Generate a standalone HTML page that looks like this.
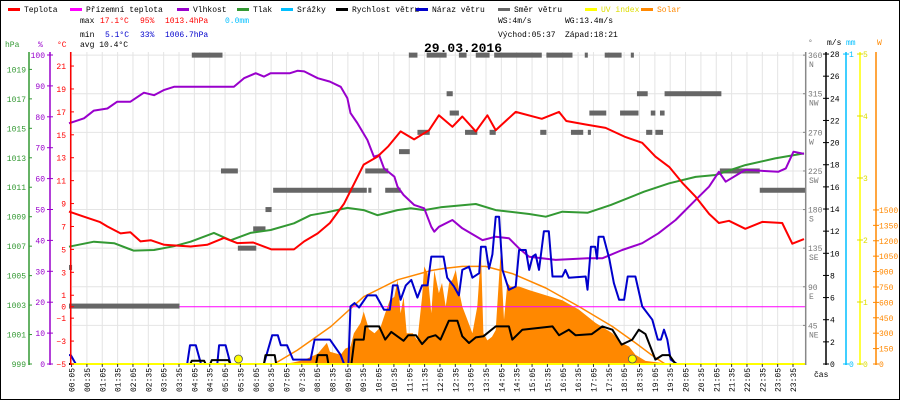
<!DOCTYPE html>
<html><head><meta charset="utf-8"><style>
html,body{margin:0;padding:0;background:#fff}
svg{display:block}
text{font-family:"Liberation Mono",monospace;font-size:8px}
</style></head><body>
<svg id="c" width="900" height="400" viewBox="0 0 900 400">
<rect x="0.5" y="0.5" width="899" height="399" fill="#fff" stroke="#000"/>
<g id="grid"></g>
<g id="series"></g>
<g id="axes"></g>
<g id="legend"></g>
<g>
<text x="80" y="23">max</text><text x="100" y="23" fill="#f00">17.1°C</text><text x="140" y="23" fill="#f00">95%</text><text x="165" y="23" fill="#f00">1013.4hPa</text><text x="225" y="23" fill="#00bfff">0.0mm</text>
<text x="80" y="37">min</text><text x="105" y="37" fill="#00c">5.1°C</text><text x="140" y="37" fill="#00c">33%</text><text x="165" y="37" fill="#00c">1006.7hPa</text>
<text x="80" y="47">avg 10.4°C</text>
<text x="498" y="23">WS:4m/s</text><text x="565" y="23">WG:13.4m/s</text>
<text x="498" y="37">Východ:05:37</text><text x="565" y="37">Západ:18:21</text>
<text x="463" y="52" text-anchor="middle" style="font-size:13px;font-weight:bold">29.03.2016</text>
</g>
</svg>
<script>
// ---- data ----
const tempH=[0,0.49,1.0,1.25,1.68,2.0,2.33,2.66,3.1,3.96,4.5,5.05,5.48,6.0,6.6,7.33,7.66,8.1,8.5,8.96,9.3,9.6,10.05,10.4,10.8,11.24,11.73,12.05,12.49,12.81,13.25,13.63,13.9,14.55,15.4,15.96,16.2,16.83,17.48,18.13,18.67,19.1,19.55,19.98,20.41,20.85,21.17,21.5,22.03,22.58,23.23,23.56,23.94];
const tempV=[8.3,7.85,7.4,7.0,6.4,6.5,5.7,5.8,5.4,5.25,5.4,6.0,5.55,5.6,5.0,5.0,5.7,6.4,7.3,9.0,10.8,12.4,13.1,14.0,15.3,14.6,15.4,16.7,15.7,16.6,15.3,16.7,15.4,17.0,16.4,17.0,16.2,15.9,15.6,14.8,14.3,13.1,12.2,10.8,9.6,8.1,7.3,7.5,6.8,7.4,7.3,5.5,5.9];
const humH=[0,0.49,0.81,1.25,1.57,2.0,2.44,2.77,3.1,3.42,5.37,5.7,6.08,6.35,6.57,7.2,7.44,7.66,8.1,8.5,8.85,9.07,9.17,9.39,9.72,9.93,10.1,10.26,10.6,10.7,10.9,11.24,11.57,11.8,11.9,12.05,12.49,12.81,13.47,13.9,14.33,14.66,14.99,15.85,16.9,17.37,18.02,18.67,19.2,19.76,20.41,20.85,21.17,21.39,22.03,23.1,23.35,23.6,23.94];
const humV=[77.9,79.5,82,82.7,84.9,84.9,87.8,87,88.7,89.7,89.7,92.5,94.1,93,94.1,94.1,94.9,94.7,92.5,91.4,89.7,86,81.2,78,72.5,67.1,67.6,63.3,60.6,57.4,54.7,51.5,50.4,44.4,42.8,44.4,46.6,43.9,40.1,41.2,40.7,37.4,34.7,33.7,34.2,34.2,36.9,39.1,42.3,46.6,53.1,57.4,62.2,59,62.8,62.2,63.3,68.7,68];
const presH=[0,0.81,1.47,2.1,2.77,3.42,3.96,4.72,5.26,5.91,6.57,7.33,7.87,8.4,9.07,9.6,10.05,10.7,11.13,11.57,12.1,13.25,13.9,14.99,15.53,16.07,16.9,17.65,18.73,19.55,20.41,21.06,22.03,23.0,23.94];
const presV=[1006.96,1007.3,1007.2,1006.7,1006.74,1007.0,1007.3,1007.9,1007.4,1007.9,1008.1,1008.55,1009.1,1009.3,1009.6,1009.45,1009.1,1009.45,1009.57,1009.45,1009.64,1009.86,1009.45,1009.18,1009.0,1009.34,1009.27,1009.8,1010.7,1011.27,1011.7,1011.83,1012.5,1012.96,1013.3];
const gustH=[0,0.06,0.22,3.85,3.94,4.13,4.3,4.83,4.89,5.1,5.26,6.35,6.62,6.8,6.9,7.1,7.3,7.87,8.0,8.5,8.85,8.96,9.1,9.17,9.3,9.45,9.72,10.0,10.26,10.45,10.55,10.7,10.8,10.97,11.15,11.35,11.5,11.68,11.8,12.2,12.32,12.54,12.7,12.81,13.03,13.14,13.36,13.42,13.57,13.68,13.79,13.9,14.01,14.12,14.33,14.55,14.66,14.88,14.99,15.1,15.2,15.31,15.47,15.63,15.75,16.07,16.17,16.28,16.83,16.89,17.0,17.14,17.2,17.25,17.41,17.6,17.75,17.92,18.08,18.2,18.45,18.67,19.0,19.18,19.28,19.38,19.49,19.6,19.8,24];
const gustV=[0.8,0.8,0,0,1.7,1.7,0,0,1.7,1.7,0,0,2.6,2.6,1.7,1.7,0.4,0.4,2.2,2.2,0.8,0,0,5.2,5.5,5.1,6.2,6.2,4.9,4.9,7.1,7.1,5.8,7.1,7.6,6.0,7.1,7.1,9.7,9.7,7.8,7.0,6.2,8.5,8.8,7.8,8.2,10.6,10.6,8.6,9.9,13.3,13.3,8.5,6.7,7.0,10.3,10.3,8.5,9.7,9.9,8.5,12.0,12.0,7.9,7.9,8.5,7.8,7.9,6.7,10.6,10.6,9.5,11.5,11.5,9.5,7.3,5.8,5.8,7.9,7.9,5.2,4.0,2.2,2.2,3.1,2.2,0.4,0,0];
const windH=[0,3.95,4.0,4.4,4.45,4.6,4.65,5.2,5.25,6.35,6.4,6.7,6.75,8.05,8.1,8.4,8.45,9.2,9.3,9.6,9.65,10.1,10.3,10.5,10.9,11.05,11.3,11.5,11.7,11.94,12.1,12.37,12.65,12.81,13.03,13.25,13.5,13.9,14.33,14.44,14.77,15.75,15.96,16.28,16.5,17.03,17.37,17.7,18.0,18.35,18.56,18.78,19.1,19.33,19.55,19.76,24];
const windV=[0,0,0.3,0.3,0,0,0.35,0.35,0,0,0.8,0.8,0,0,0.8,0.8,0,0,2.2,2.2,3.4,3.4,2.2,2.9,2.1,2.6,2.6,1.8,2.4,2.6,2.2,3.9,3.9,2.5,1.9,2.4,2.5,3.4,3.4,2.2,3.1,3.4,2.6,3.1,2.6,2.7,3.4,3.1,1.75,2.2,3.1,2.7,0.4,0.8,0.8,0,0];
const solarH=[7.0,7.3,7.66,8.1,8.4,8.5,8.85,9.0,9.17,9.28,9.5,9.6,9.77,9.95,10.15,10.3,10.45,10.6,10.7,10.8,10.9,11.0,11.2,11.35,11.5,11.57,11.68,11.8,11.9,12.05,12.15,12.27,12.38,12.49,12.6,12.7,12.81,12.95,13.14,13.3,13.42,13.5,13.63,13.78,13.9,14.06,14.17,14.28,14.38,14.66,14.99,15.53,16.07,16.61,17.15,17.7,18.0,18.24,18.45,18.78,19.33,19.5];
const solarV=[0,15,40,100,205,120,90,150,170,300,400,510,340,300,360,495,620,655,820,495,655,300,300,230,655,950,880,495,910,690,790,560,790,820,915,720,560,450,300,560,1080,300,230,265,330,1080,430,790,755,755,720,670,620,530,400,300,205,170,90,30,10,0];
const theoH=[6.68,7.44,8.53,9.6,10.7,11.8,12.2,12.81,13.57,14.44,15.53,16.61,17.7,18.45,19.1,19.42];
const theoV=[0,135,365,655,820,910,930,950,950,880,740,560,365,205,60,0];
// wind direction segments: start hour, end hour, degrees
const dirStart=[0,0,4.0,4.95,5.5,6.0,6.4,6.65,9.75,10.3,9.65,10.75,11.07,11.35,11.65,12.3,12.4,12.7,12.9,13.25,13.7,13.85,15.35,15.55,16.35,16.8,16.9,16.95,17.45,17.95,18.3,18.5,18.8,18.95,19.1,19.25,19.4,21.2,22.5];
const dirEnd=[3.6,0.1,5.0,5.5,6.1,6.4,6.6,9.7,9.85,10.8,10.4,11.1,11.35,11.75,12.3,12.5,12.7,12.95,13.3,13.7,13.9,15.4,15.55,16.4,16.75,16.9,17.0,17.5,18.0,18.55,18.4,18.85,19.0,19.1,19.35,19.4,21.25,22.5,24];
const dirDeg=[67.5,112.5,360,225,135,157.5,180,202.5,202.5,202.5,225,247.5,360,270,360,315,292.5,360,270,360,270,360,270,360,270,360,270,292.5,360,292.5,360,315,270,292.5,270,292.5,315,225,202.5];
const sunH=[5.52,18.35];
const presTicks=[999,1001,1003,1005,1007,1009,1011,1013,1015,1017,1019];
const humTicks=[0,10,20,30,40,50,60,70,80,90,100];
const tempTicks=[-5,-3,-1,0,1,3,5,7,9,11,13,15,17,19,21];
const windTicks=[0,2,4,6,8,10,12,14,16,18,20,22,24,26,28];
const uvTicks=[0,1,2,3,4,5];
const solarTicks=[0,150,300,450,600,750,900,1050,1200,1350,1500];
const dirTicks=[45,90,135,180,225,270,315,360];
const dirNames=["NE","E","SE","S","SW","W","NW","N"];
const legendNames=["Teplota","Přízemní teplota","Vlhkost","Tlak","Srážky","Rychlost větru","Náraz větru","Směr větru","UV index","Solar"];

// ---- scales ----
const B=364;
const xh=h=>69+Math.max(0,Math.min(24,h))*30.7;
const yT=v=>B-(v+5)*11.46;
const yH=v=>B-v*3.09;
const yP=v=>B-(v-999)*14.73;
const yW=v=>B-v*11.07;
const yS=v=>B-v*0.1027;
const yD=v=>B-v*0.858;
const yU=v=>B-v*62;
const NS='http://www.w3.org/2000/svg';
function mk(tag,attrs,parent){const e=document.createElementNS(NS,tag);for(const k in attrs)e.setAttribute(k,attrs[k]);parent.appendChild(e);return e;}
const G=document.getElementById('grid'),S=document.getElementById('series'),A=document.getElementById('axes'),L=document.getElementById('legend');

// grid
for(let i=0;i<48;i++){const h=i*0.5+5/60;const x=xh(h);
 const l=mk('line',{x1:x,y1:52,x2:x,y2:B,stroke:'#e4e4e4','stroke-width':1},G);
 
 const tk=mk('line',{x1:x,y1:B,x2:x,y2:B+3,stroke:'#333'},A);
 
 const hh=Math.floor(h),mm=Math.round((h-hh)*60);
 const lab=(hh<10?'0':'')+hh+':'+(mm<10?'0':'')+mm;
 const t=mk('text',{x:0,y:0,transform:`translate(${x+3},${392}) rotate(-90)`},A);t.textContent=lab;
 }
dirTicks.forEach(d=>{const y=yD(d);const l=mk('line',{x1:71,y1:y,x2:805,y2:y,stroke:'#e4e4e4'},G);
 });

function poly(hs,vs,fy,color,w,name){const pts=hs.map((h,i)=>xh(h).toFixed(1)+','+fy(vs[i]).toFixed(1)).join(' ');
 const p=mk('polyline',{points:pts,fill:'none',stroke:color,'stroke-width':w,'stroke-linejoin':'round'},S);
 return p;}

// solar area
{const pts=[xh(solarH[0])+','+B].concat(solarH.map((h,i)=>xh(h).toFixed(1)+','+yS(solarV[i]).toFixed(1))).concat([xh(solarH[solarH.length-1])+','+B]).join(' ');
 const p=mk('polygon',{points:pts,fill:'#ff8800'},S);
 }
poly(theoH,theoV,yS,'#ff8800',1.5,'solar-theoretical-line');
{const l=mk('line',{x1:71,y1:yT(0),x2:805,y2:yT(0),stroke:'#ff00ff','stroke-width':1},S);
 }
dirDeg.forEach((d,i)=>{const x1=xh(dirStart[i]),x2=xh(dirEnd[i]);
 const r=mk('rect',{x:x1,y:yD(d)-2.5,width:Math.max(3,x2-x1),height:5,fill:'#666'},S);
 });
poly(presH,presV,yP,'#339933',2,'pressure-line');
poly(humH,humV,yH,'#9900cc',2,'humidity-line');
poly(tempH,tempV,yT,'#ff0000',2,'temperature-line');
poly(gustH,gustV,yW,'#0000cc',2,'wind-gust-line');
poly(windH,windV,yW,'#000000',2,'wind-speed-line');
{const l=mk('line',{x1:71,y1:B,x2:806,y2:B,stroke:'#ffff00','stroke-width':2},S);
 }
sunH.forEach(h=>{const c=mk('circle',{cx:xh(h),cy:B-5,r:4,fill:'#ffff00',stroke:'#555','stroke-width':0.8},S);
 });

// axes
function axis(x,color,name){const l=mk('line',{x1:x,y1:52,x2:x,y2:B+1,stroke:color,'stroke-width':1.5},A);
 }
function lab(x,y,txt,color,anchor,name){const t=mk('text',{x:x,y:y,fill:color,'text-anchor':anchor||'start'},A);t.textContent=txt;
 return t;}
axis(29,'#339933','pressure-axis');axis(50,'#9900cc','humidity-axis');axis(70.7,'#ff0000','temperature-axis');
axis(805.7,'#888','direction-axis');axis(826,'#000','wind-axis');axis(846,'#00bfff','precipitation-axis');axis(860,'#ffff00','uv-axis');axis(876,'#ff8800','solar-axis');
presTicks.forEach(v=>{const y=yP(v);mk('line',{x1:29,y1:y,x2:32,y2:y,stroke:'#339933'},A);lab(26,y+3,v,'#339933','end','pressure-tick-label');});
humTicks.forEach(v=>{const y=yH(v);mk('line',{x1:47,y1:y,x2:53,y2:y,stroke:'#9900cc'},A);lab(45,y+3,v,'#9900cc','end','humidity-tick-label');});
tempTicks.forEach(v=>{const y=yT(v);mk('line',{x1:70,y1:y,x2:74,y2:y,stroke:'#ff0000'},A);lab(66,y+3,v<0?'−'+(-v):v,'#ff0000','end','temperature-tick-label');});
dirTicks.forEach((v,i)=>{const y=yD(v);mk('line',{x1:803,y1:y,x2:806,y2:y,stroke:'#888'},A);lab(808,y+3,v,'#777','start','direction-tick-label');lab(809,y+12,dirNames[i],'#777','start','direction-name-label');});
windTicks.forEach(v=>{const y=yW(v);mk('line',{x1:823,y1:y,x2:829,y2:y,stroke:'#000'},A);lab(830,y+3,v,'#000','start','wind-tick-label');});
[0,1].forEach(v=>{const y=v?yW(28):B;mk('line',{x1:843,y1:y,x2:849,y2:y,stroke:'#00bfff'},A);lab(849,y+3,v,'#00bfff','start','precipitation-tick-label');});
uvTicks.forEach(v=>{const y=yU(v);mk('line',{x1:857,y1:y,x2:863,y2:y,stroke:'#dddd00'},A);lab(863,y+3,v,'#dddd00','start','uv-tick-label');});
solarTicks.forEach(v=>{const y=yS(v);mk('line',{x1:873,y1:y,x2:879,y2:y,stroke:'#ff8800'},A);lab(879,y+3,v,'#ff8800','start','solar-tick-label');});
lab(5,47,'hPa','#339933','start','pressure-axis-title');lab(38,47,'%','#9900cc','start','humidity-axis-title');lab(57,47,'°C','#ff0000','start','temperature-axis-title');
lab(808,45,'°','#777','start','direction-axis-title');lab(827,45,'m/s','#000','start','wind-axis-title');lab(846,45,'mm','#00bfff','start','precipitation-axis-title');lab(877,45,'W','#ff8800','start','solar-axis-title');
lab(814,377,'čas','#000','start','x-axis-title');

// legend
const legColors=['#ff0000','#ff00ff','#9900cc','#339933','#00bfff','#000000','#0000cc','#666666','#ffff00','#ff8800'];
const legX=[8,70,177,237,281,336,416,498,585,641];
legendNames.forEach((n,i)=>{const g=mk('g',{},L);
 
 mk('rect',{x:legX[i],y:8,width:12,height:3,fill:legColors[i]},g);
 const t=mk('text',{x:legX[i]+16,y:12,fill:i==8?'#dddd00':(i==9?'#ff8800':'#000')},g);t.textContent=n;});
</script>
</body></html>
